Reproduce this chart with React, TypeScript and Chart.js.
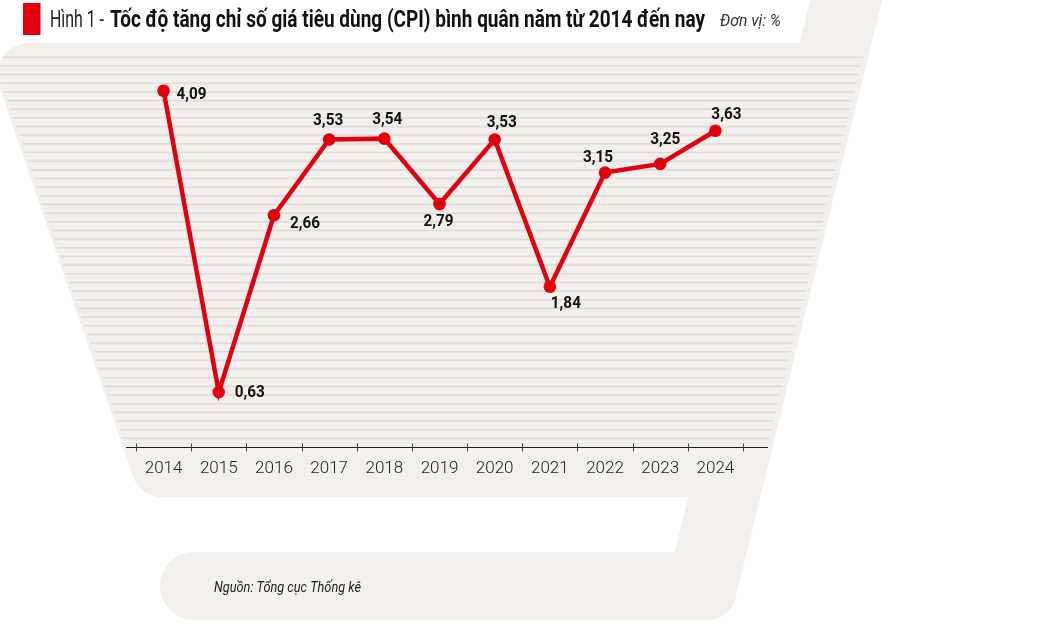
import { useEffect, useRef } from "react";
import { Chart, registerables } from "chart.js";

Chart.register(...registerables);

// ---- data ----
const years = ["2014", "2015", "2016", "2017", "2018", "2019", "2020", "2021", "2022", "2023", "2024"];
const cpi = [4.09, 0.63, 2.66, 3.53, 3.54, 2.79, 3.53, 1.84, 3.15, 3.25, 3.63];

// ---- text ----
const titlePrefix = "Hình 1 - ";
const titleMain = "Tốc độ tăng chỉ số giá tiêu dùng (CPI) bình quân năm từ 2014 đến nay";
const unitText = "Đơn vị: %";
const sourceText = "Nguồn: Tổng cục Thống kê";

// ---- label placement (style) : offset of label centre from point ----
const labelOffsets: [number, number][] = [
  [28, 4], [31, 1], [31, 8], [-1, -19], [3, -19], [-1, 18], [7, -17], [16, 17], [-7, -15], [5, -24], [11, -16],
];

const RED = "#e2000f";
const PANEL = "#f2efec";
const STRIPE = "#e0dcd8";

const bandLeft = (y: number) => 810 - 0.245 * y;
const bandRight = (y: number) => 882 - 0.245 * y;
const mainLeft = (y: number) => 52 + 0.343 * (y - 240);

function shapePath(ctx: CanvasRenderingContext2D) {
  ctx.beginPath();
  ctx.moveTo(bandLeft(0), 0);
  ctx.lineTo(bandRight(0), 0);
  ctx.arcTo(bandRight(620), 620, 190, 620, 28);
  ctx.arcTo(160, 620, 160, 586, 34);
  ctx.arcTo(160, 552, 194, 552, 34);
  ctx.lineTo(bandLeft(552), 552);
  ctx.lineTo(bandLeft(497), 497);
  ctx.arcTo(mainLeft(497), 497, mainLeft(400), 400, 30);
  ctx.arcTo(mainLeft(43), 43, 300, 43, 32);
  ctx.lineTo(bandLeft(43), 43);
  ctx.closePath();
}

function fitText(ctx: CanvasRenderingContext2D, text: string, x: number, y: number, width: number) {
  const w = ctx.measureText(text).width;
  ctx.save();
  ctx.translate(x, y);
  ctx.scale(width / w, 1);
  ctx.textAlign = "left";
  ctx.fillText(text, 0, 0);
  ctx.restore();
}

const backgroundPlugin = {
  id: "bgDecor",
  beforeDraw(chart: any) {
    const ctx: CanvasRenderingContext2D = chart.ctx;
    ctx.save();
    ctx.fillStyle = "#ffffff";
    ctx.fillRect(0, 0, chart.width, chart.height);
    shapePath(ctx);
    ctx.fillStyle = PANEL;
    ctx.fill();
    // stripes
    ctx.save();
    shapePath(ctx);
    ctx.clip();
    ctx.strokeStyle = STRIPE;
    ctx.lineWidth = 1.6;
    for (let i = 0; i < 45; i++) {
      const y = 57.3 + i * 8.66;
      ctx.beginPath();
      ctx.moveTo(mainLeft(y) + 3, y);
      ctx.lineTo(bandRight(y) - 5, y);
      ctx.stroke();
    }
    ctx.restore();

    // title block
    ctx.fillStyle = RED;
    ctx.fillRect(23, 3, 17.5, 32);
    ctx.textBaseline = "alphabetic";
    ctx.fillStyle = "#222";
    ctx.font = "400 23px Roboto";
    fitText(ctx, titlePrefix.trim(), 50, 27, 54);
    ctx.fillStyle = "#111";
    ctx.font = "700 23px Roboto";
    fitText(ctx, titleMain, 110, 27, 595);
    ctx.fillStyle = "#333";
    ctx.font = "italic 400 16px Roboto";
    fitText(ctx, unitText, 720, 26, 61);

    // source
    ctx.fillStyle = "#222";
    ctx.font = "italic 400 14px Roboto";
    fitText(ctx, sourceText, 214, 592, 147);
    ctx.restore();
  },
  beforeDatasetsDraw(chart: any) {
    const ctx: CanvasRenderingContext2D = chart.ctx;
    const xs = chart.scales.x;
    const y0 = chart.chartArea.bottom + 0.5;
    ctx.save();
    ctx.strokeStyle = "#222";
    ctx.lineWidth = 1.2;
    ctx.beginPath();
    ctx.moveTo(126, y0);
    ctx.lineTo(768, y0);
    ctx.stroke();
    const n = chart.data.labels.length;
    const half = (xs.getPixelForValue(1) - xs.getPixelForValue(0)) / 2;
    ctx.strokeStyle = "#444";
    ctx.lineWidth = 1;
    for (let i = 0; i <= n; i++) {
      const x = Math.round(xs.getPixelForValue(0) - half + i * half * 2) + 0.5;
      ctx.beginPath();
      ctx.moveTo(x, y0 - 4);
      ctx.lineTo(x, y0 + 4);
      ctx.stroke();
    }
    ctx.restore();
  },
  afterDatasetsDraw(chart: any) {
    const ctx: CanvasRenderingContext2D = chart.ctx;
    const meta = chart.getDatasetMeta(0);
    ctx.save();
    ctx.fillStyle = "#111";
    ctx.font = "700 17px Roboto";
    ctx.textAlign = "center";
    ctx.textBaseline = "middle";
    meta.data.forEach((pt: any, i: number) => {
      const v = chart.data.datasets[0].data[i] as number;
      const txt = v.toFixed(2).replace(".", ",");
      const [dx, dy] = labelOffsets[i];
      ctx.save();
      ctx.translate(pt.x + dx, pt.y + dy);
      ctx.scale(0.9, 1);
      ctx.fillText(txt, 0, 0);
      ctx.restore();
    });
    ctx.restore();
  },
};

export default function App() {
  const ref = useRef<HTMLCanvasElement | null>(null);
  useEffect(() => {
    if (!ref.current) return;
    const chart = new Chart(ref.current, {
      type: "line",
      data: {
        labels: years,
        datasets: [
          {
            data: cpi,
            borderColor: RED,
            backgroundColor: RED,
            borderWidth: 4.5,
            pointRadius: 6.3,
            pointHoverRadius: 6.3,
            pointBackgroundColor: RED,
            pointBorderWidth: 0,
            tension: 0,
          },
        ],
      },
      options: {
        responsive: false,
        animation: false,
        events: [],
        layout: { padding: { left: 136, right: 307, top: 55, bottom: 0 } },
        plugins: {
          legend: { display: false },
          tooltip: { enabled: false },
          title: { display: false },
        },
        scales: {
          x: {
            offset: true,
            grid: { display: false },
            border: { display: false },
            ticks: {
              color: "#222",
              font: { family: "Roboto", size: 17, weight: "300" as any },
              padding: 4,
              maxRotation: 0,
              autoSkip: false,
            },
            afterFit: (s: any) => {
              s.height = 183;
            },
          },
          y: { display: false, min: 0, max: 4.5 },
        },
      },
      plugins: [backgroundPlugin],
    });
    return () => chart.destroy();
  }, []);
  return (
    <div style={{ position: "absolute", left: 0, top: 0, width: 1050, height: 630 }}>
      <canvas ref={ref} width={1050} height={630} style={{ display: "block", width: 1050, height: 630 }} />
    </div>
  );
}
